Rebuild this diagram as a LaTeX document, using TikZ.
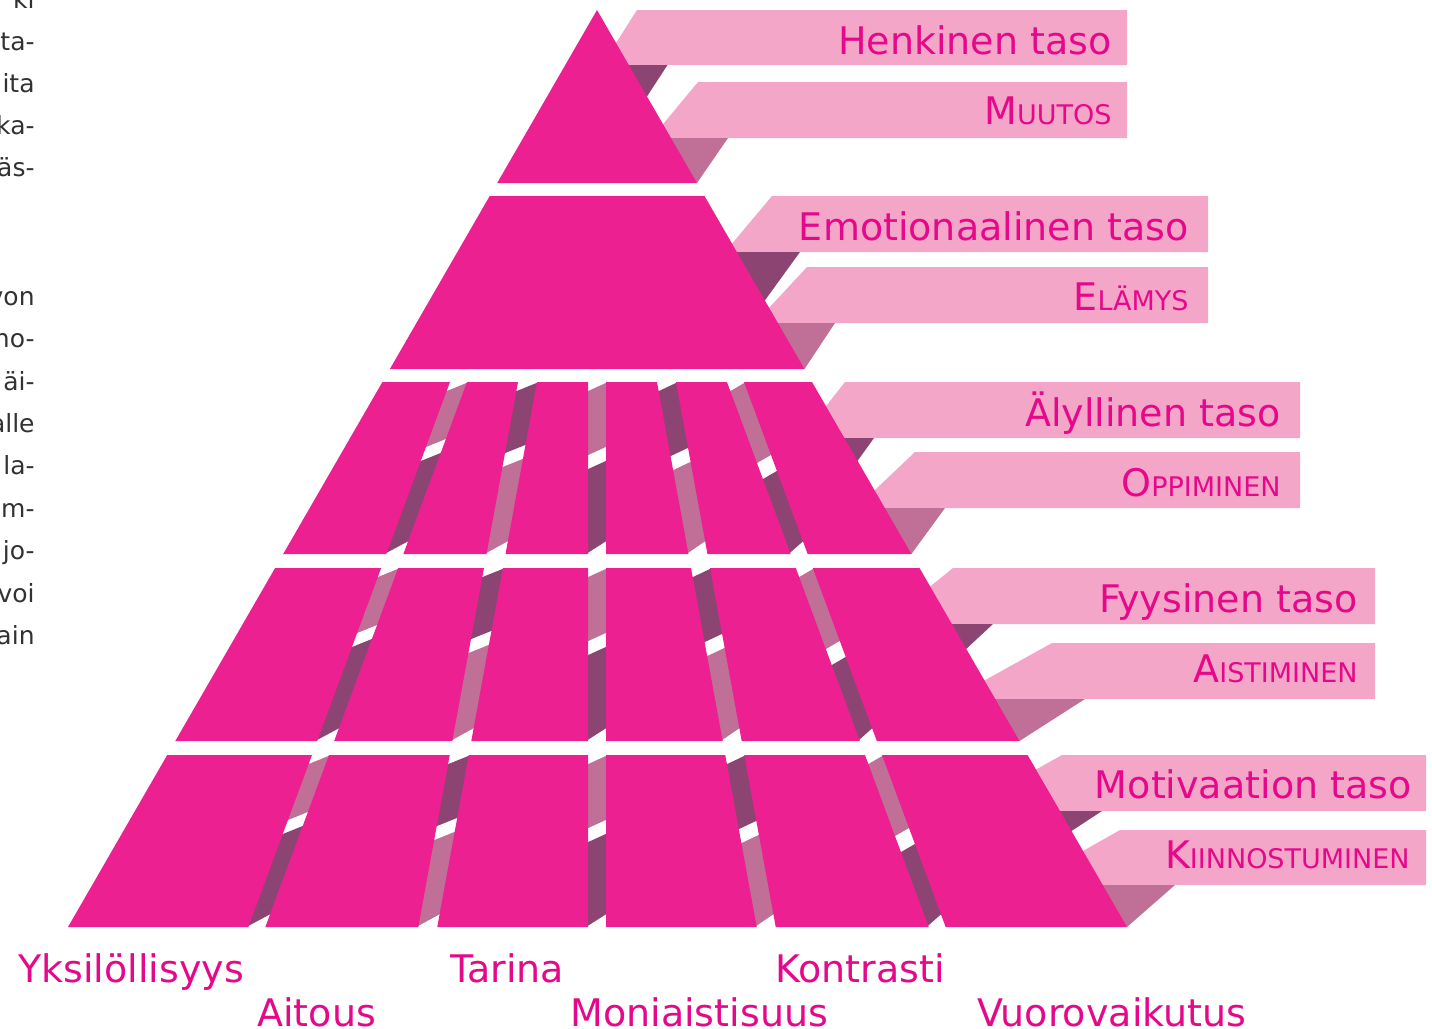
\documentclass[tikz,border=0pt]{standalone}
\usepackage{fontspec}
\setmainfont{DejaVu Sans}
\usetikzlibrary{calc}

\definecolor{blockmag}{RGB}{236,32,144}
\definecolor{bandpink}{RGB}{244,166,201}
\definecolor{shadedark}{RGB}{140,69,115}
\definecolor{shadelight}{RGB}{192,112,150}
\definecolor{labelmag}{RGB}{229,8,138}
\definecolor{bodygray}{RGB}{50,50,50}

% word set with a full-size initial and small capitals after it
\newcommand\scword[2]{{\fontsize{19pt}{19pt}\selectfont #1}{\fontsize{13.5pt}{13.5pt}\selectfont #2}}

% shaded ribbon seen through a gap between two blocks:
% #1 left edge fn, #2 right edge fn, #3 top, #4 bottom, #5/#6 break, #7 upper colour, #8 lower colour
\newcommand\gapstrip[8]{%
  \fill[#7] ({#1(#3+10)-2},{#3+10}) -- ({#2(#3)+2},{#3}) -- ({#2(#3+#5-10)+2},{#3+#5-10}) -- ({#1(#3+#5)-2},{#3+#5}) -- cycle;
  \fill[#8] ({#1(#3+#6)-2},{#3+#6}) -- ({#2(#3+#6-10)+2},{#3+#6-10}) -- ({#2(#4-14)+2},{#4-14}) -- ({#1(#4)-2},{#4}) -- cycle;}

\newcommand\fivegaps[2]{%
  \gapstrip{gA}{gB}{#1}{#2}{66}{80}{shadelight}{shadedark}
  \gapstrip{gC}{gD}{#1}{#2}{72}{86}{shadedark}{shadelight}
  \gapstrip{gE}{gF}{#1}{#2}{74}{88}{shadelight}{shadedark}
  \gapstrip{gG}{gH}{#1}{#2}{75}{89}{shadedark}{shadelight}
  \gapstrip{gI}{gJ}{#1}{#2}{82}{98}{shadelight}{shadedark}}

% one pyramid tier cut into six blocks
\newcommand\sixblocks[2]{%
  \fill[pyrblock] ({xl(#1)},#1) -- ({gA(#1)},#1) -- ({gA(#2)},#2) -- ({xl(#2)},#2) -- cycle;
  \fill[pyrblock] ({gB(#1)},#1) -- ({gC(#1)},#1) -- ({gC(#2)},#2) -- ({gB(#2)},#2) -- cycle;
  \fill[pyrblock] ({gD(#1)},#1) -- (588,#1) -- (588,#2) -- ({gD(#2)},#2) -- cycle;
  \fill[pyrblock] (606,#1) -- ({gG(#1)},#1) -- ({gG(#2)},#2) -- (606,#2) -- cycle;
  \fill[pyrblock] ({gH(#1)},#1) -- ({gI(#1)},#1) -- ({gI(#2)},#2) -- ({gH(#2)},#2) -- cycle;
  \fill[pyrblock] ({gJ(#1)},#1) -- ({xr(#1)},#1) -- ({xr(#2)},#2) -- ({gJ(#2)},#2) -- cycle;}

\begin{document}
\begin{tikzpicture}[x=0.5pt,y=-0.5pt,
  declare function={
    xl(\y)=597-0.57688*(\y-10);
    xr(\y)=597+0.57797*(\y-10);
    gA(\y)=450-0.37*(\y-382);
    gB(\y)=467-0.37*(\y-382);
    gC(\y)=518-0.183*(\y-382);
    gD(\y)=537-0.183*(\y-382);
    gE(\y)=588+0*\y;
    gF(\y)=606+0*\y;
    gG(\y)=657+0.183*(\y-382);
    gH(\y)=676+0.183*(\y-382);
    gI(\y)=727+0.37*(\y-382);
    gJ(\y)=744+0.37*(\y-382);
  },
  pyrblock/.style={fill=blockmag},
  band/.style={fill=bandpink},
  darkfold/.style={fill=shadedark},
  lightfold/.style={fill=shadelight},
  tiername/.style={text=labelmag, font=\fontsize{19pt}{19pt}\selectfont, inner sep=0pt, anchor=base east},
  colname/.style={text=labelmag, font=\fontsize{19pt}{19pt}\selectfont, inner sep=0pt, anchor=base west},
  bodytext/.style={text=bodygray, font=\fontsize{12.5pt}{12.5pt}\selectfont, inner sep=0pt, anchor=base east}
]
\useasboundingbox (0,0) rectangle (1432,1029);
\clip (0,0) rectangle (1432,1029);

% ---- ribbons on the right of each tier ----
% tier 1
\fill[band] (637,10) -- (1127,10) -- (1127,65) -- (602,65) -- cycle;
\fill[darkfold] (610,65) -- (667.5,65) -- (646,98) -- cycle;
\fill[band] (698,82) -- (1127,82) -- (1127,138) -- (651.5,138) -- cycle;
\fill[lightfold] (660,138) -- (728,138) -- ({xr(183)},183) -- cycle;
% tier 2
\fill[band] (772,196) -- (1208,196) -- (1208,252) -- (725,252) -- cycle;
\fill[darkfold] (725,252) -- (800,252) -- (763,303) -- cycle;
\fill[band] (807,267) -- (1208,267) -- (1208,323) -- (755,323) -- cycle;
\fill[lightfold] (770,323) -- (835,323) -- ({xr(369)},369) -- cycle;
% tier 3
\fill[band] (845,382) -- (1300,382) -- (1300,438) -- (801,438) -- cycle;
\fill[darkfold] (830,438) -- (874,438) -- (856,463) -- cycle;
\fill[band] (915,452) -- (1300,452) -- (1300,508) -- (856,508) -- cycle;
\fill[lightfold] (870,508) -- (945,508) -- ({xr(554)},554) -- cycle;
% tier 4
\fill[band] (953,568) -- (1375,568) -- (1375,624) -- (884,624) -- cycle;
\fill[darkfold] (930,624) -- (993,624) -- (964,651) -- cycle;
\fill[band] (1052,643) -- (1375,643) -- (1375,699) -- (951,699) -- cycle;
\fill[lightfold] (975,699) -- (1085,699) -- ({xr(741)},741) -- cycle;
% tier 5
\fill[band] (1062,755) -- (1426,755) -- (1426,811) -- (962,811) -- cycle;
\fill[darkfold] (1040,811) -- (1102,811) -- (1067,834) -- cycle;
\fill[band] (1120,830) -- (1426,830) -- (1426,885) -- (1023,885) -- cycle;
\fill[lightfold] (1090,885) -- (1175,885) -- (1127,927) -- cycle;

% ---- ribbons behind the gaps of the lower tiers ----
\fivegaps{382}{554}
\fivegaps{568}{741}
\fivegaps{755}{927}

% ---- pyramid ----
\fill[pyrblock] (597,10) -- ({xr(183)},183) -- ({xl(183)},183) -- cycle;
\fill[pyrblock] ({xl(196)},196) -- ({xr(196)},196) -- ({xr(369)},369) -- ({xl(369)},369) -- cycle;
\sixblocks{382}{554}
\sixblocks{568}{741}
\sixblocks{755}{927}

% ---- tier names ----
\node[tiername] (henk) at (1112,54) {Henkinen taso};
\node[tiername] (muut) at (1112,124) {\scword{M}{UUTOS}};
\node[tiername] (emo) at (1189,240) {Emotionaalinen taso};
\node[tiername] (elam) at (1189,310) {\scword{E}{LÄMYS}};
\node[tiername] (aly) at (1281,426) {Älyllinen taso};
\node[tiername] (oppi) at (1281,496) {\scword{O}{PPIMINEN}};
\node[tiername] (fyys) at (1358,612) {Fyysinen taso};
\node[tiername] (aist) at (1358,682) {\scword{A}{ISTIMINEN}};
\node[tiername] (moti) at (1412,798) {Motivaation taso};
\node[tiername] (kiin) at (1410,868) {\scword{K}{IINNOSTUMINEN}};

% ---- column names ----
\node[colname] (yks) at (18,982) {Yksilöllisyys};
\node[colname] (ait) at (257,1026) {Aitous};
\node[colname] (tar) at (450,982) {Tarina};
\node[colname] (mon) at (570,1026) {Moniaistisuus};
\node[colname] (kon) at (775,982) {Kontrasti};
\node[colname] (vuo) at (977,1026) {Vuorovaikutus};

% ---- neighbouring body text column ----
\node[bodytext] (b1) at (35,8) {ki};
\node[bodytext] (b2) at (35,50) {ta-};
\node[bodytext] (b3) at (35,92) {ita};
\node[bodytext] (b4) at (35,134) {ka-};
\node[bodytext] (b5) at (35,176) {äs-};
\node[bodytext] (b6) at (35,305) {von};
\node[bodytext] (b7) at (35,347) {no-};
\node[bodytext] (b8) at (35,390) {äi-};
\node[bodytext] (b9) at (35,432) {alle};
\node[bodytext] (b10) at (35,474) {la-};
\node[bodytext] (b11) at (35,517) {m-};
\node[bodytext] (b12) at (35,559) {jo-};
\node[bodytext] (b13) at (35,602) {voi};
\node[bodytext] (b14) at (35,644) {ain};
\end{tikzpicture}
\end{document}
